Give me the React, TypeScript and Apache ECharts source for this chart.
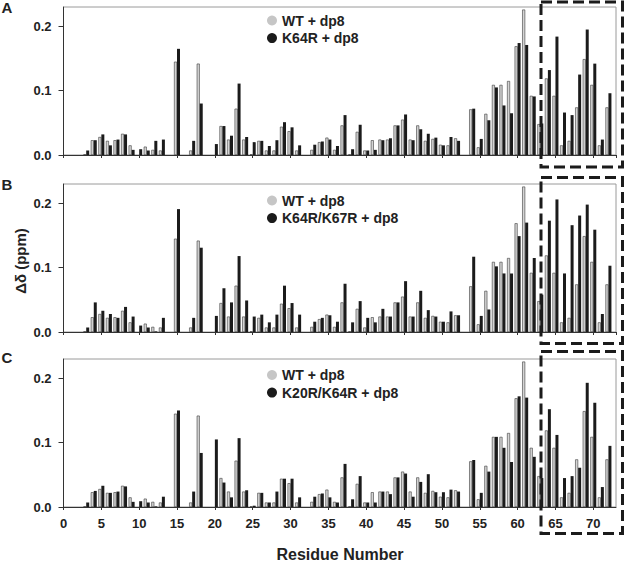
import React, { useEffect, useRef } from "react";
import * as echarts from "echarts";

// Residues 1..72
const residues: number[] = Array.from({ length: 72 }, (_, i) => i + 1);

const wtDp8: (number | null)[] = [
  null, null, 0.001, 0.023, 0.028, 0.022, 0.023, 0.033, 0.015, null,
  0.013, 0.008, 0.007, null, 0.145, null, 0.007, 0.142, null, null,
  0.045, 0.024, 0.072, 0.024, 0.001, 0.022, 0.007, 0.007, 0.044, 0.037,
  0.007, null, 0.008, 0.020, 0.027, 0.008, 0.046, 0.001, 0.036, 0.007,
  0.023, 0.024, 0.024, 0.046, 0.055, 0.024, 0.046, 0.022, 0.025, 0.016,
  0.015, 0.026, null, 0.071, 0.012, 0.064, 0.109, 0.109, 0.115, 0.169,
  0.226, 0.092, 0.048, 0.119, 0.092, 0.015, 0.022, 0.074, 0.149, 0.109,
  0.015, 0.074,
];

const k64rDp8: (number | null)[] = [
  null, null, 0.007, 0.023, 0.032, 0.015, 0.024, 0.032, 0.008, 0.009,
  0.007, 0.022, 0.024, null, 0.165, null, 0.022, 0.080, null, 0.017,
  0.045, 0.030, 0.111, 0.028, 0.020, 0.022, 0.014, 0.023, 0.051, 0.043,
  0.015, null, 0.016, 0.021, 0.024, 0.014, 0.062, 0.009, 0.047, 0.007,
  0.008, 0.023, 0.026, 0.046, 0.063, 0.023, 0.040, 0.033, 0.027, 0.015,
  0.028, 0.022, null, 0.072, 0.025, 0.054, 0.105, 0.077, 0.065, 0.174,
  0.171, 0.091, 0.049, 0.132, 0.184, 0.066, 0.062, 0.125, 0.195, 0.142,
  0.024, 0.096,
];

const k64rK67rDp8: (number | null)[] = [
  null, null, 0.007, 0.046, 0.033, 0.028, 0.022, 0.039, 0.024, 0.010,
  0.007, 0.001, 0.022, null, 0.191, null, 0.022, 0.131, null, 0.025,
  0.068, 0.046, 0.118, 0.049, 0.024, 0.027, 0.015, 0.027, 0.072, 0.045,
  0.027, null, 0.016, 0.022, 0.026, 0.016, 0.075, 0.015, 0.048, 0.022,
  0.015, 0.036, 0.024, 0.046, 0.079, 0.024, 0.064, 0.034, 0.024, 0.016,
  0.032, 0.026, null, 0.117, 0.025, 0.035, 0.102, 0.091, 0.091, 0.149,
  0.170, 0.115, 0.058, 0.173, 0.206, 0.091, 0.166, 0.181, 0.198, 0.159,
  0.028, 0.103,
];

const k20rK64rDp8: (number | null)[] = [
  null, null, 0.007, 0.025, 0.033, 0.022, 0.024, 0.032, 0.008, 0.009,
  0.007, 0.001, 0.016, null, 0.150, null, 0.024, 0.084, null, 0.105,
  0.038, 0.015, 0.107, 0.026, 0.002, 0.022, 0.007, 0.024, 0.044, 0.044,
  0.015, null, 0.016, 0.021, 0.015, 0.007, 0.067, 0.012, 0.048, 0.007,
  0.007, 0.024, 0.020, 0.046, 0.052, 0.016, 0.039, 0.051, 0.023, 0.023,
  0.027, 0.024, null, 0.073, 0.022, 0.055, 0.109, 0.092, 0.070, 0.172,
  0.170, 0.078, 0.045, 0.152, 0.112, 0.045, 0.048, 0.061, 0.193, 0.162,
  0.031, 0.095,
];

const panelLetters = ["A", "B", "C"];
const wtName = "WT + dp8";
const mutantNames = ["K64R + dp8", "K64R/K67R + dp8", "K20R/K64R + dp8"];
const mutantData = [k64rDp8, k64rK67rDp8, k20rK64rDp8];
const xTitle = "Residue Number";
const yTitle = "Δδ (ppm)";

const FONT = "'Liberation Sans', Arial, Helvetica, sans-serif";
const GRAY = "#d4d4d4";
const BLACK = "#1b1b1b";

const gridTops = [7, 184, 359];
const gridH = 148;
const legendTops = [13.5, 193.5, 368];
const boxes = [
  { y1: 2, y2: 167 },
  { y1: 177.5, y2: 343.5 },
  { y1: 351.5, y2: 533.5 },
];

function toPairs(vals: (number | null)[]) {
  const out: [number, number][] = [];
  vals.forEach((v, i) => {
    if (v !== null) out.push([residues[i], v]);
  });
  return out;
}

export default function App() {
  const ref = useRef<HTMLDivElement>(null);
  useEffect(() => {
    if (!ref.current) return;
    const chart = echarts.init(ref.current, undefined, { renderer: "svg" });

    const grids = gridTops.map((t) => ({
      left: 63.5,
      right: 9,
      top: t,
      height: gridH,
      show: true,
      borderColor: "#9a9a9a",
      borderWidth: 1,
      backgroundColor: "transparent",
    }));

    const xAxes = gridTops.map((_, i) => ({
      type: "value",
      gridIndex: i,
      min: 0,
      max: 73,
      interval: 5,
      splitLine: { show: false },
      axisLine: { show: true, lineStyle: { color: "#333", width: 1 } },
      axisTick: { show: true, length: 3, lineStyle: { color: "#333" } },
      axisLabel: {
        show: i === 2,
        margin: 10,
        fontFamily: FONT,
        fontWeight: "bold",
        fontSize: 13,
        color: "#222",
        showMaxLabel: false,
        formatter: (v: number) => (v % 5 === 0 ? String(v) : ""),
      },
    }));

    const yAxes = gridTops.map((_, i) => ({
      type: "value",
      gridIndex: i,
      min: 0,
      max: 0.23,
      interval: 0.1,
      splitLine: { show: false },
      axisLine: { show: true, lineStyle: { color: "#333", width: 1 } },
      axisTick: { show: true, length: 5, lineStyle: { color: "#333" } },
      axisLabel: {
        margin: 12,
        fontFamily: FONT,
        fontWeight: "bold",
        fontSize: 13,
        color: "#222",
        showMaxLabel: false,
        formatter: (v: number) =>
          Math.abs(v * 10 - Math.round(v * 10)) < 1e-6 ? v.toFixed(1) : "",
      },
    }));

    const series: any[] = [];
    gridTops.forEach((_, i) => {
      series.push({
        type: "bar",
        name: wtName,
        xAxisIndex: i,
        yAxisIndex: i,
        data: toPairs(wtDp8),
        barWidth: 3,
        barGap: "0%",
        itemStyle: { color: GRAY, borderColor: "#3a3a3a", borderWidth: 0.6 },
      });
      series.push({
        type: "bar",
        name: mutantNames[i],
        xAxisIndex: i,
        yAxisIndex: i,
        data: toPairs(mutantData[i]),
        barWidth: 3,
        barGap: "0%",
        itemStyle: { color: BLACK },
      });
    });

    const legends = gridTops.map((_, i) => ({
      orient: "vertical",
      left: 267,
      top: legendTops[i],
      padding: 0,
      itemGap: 3.6,
      itemWidth: 10,
      itemHeight: 10,
      icon: "circle",
      selectedMode: false,
      textStyle: {
        fontFamily: FONT,
        fontWeight: "bold",
        fontSize: 14,
        color: "#222",
      },
      data: [
        { name: wtName, itemStyle: { color: "#c6c6c6", borderWidth: 0 } },
        { name: mutantNames[i], itemStyle: { color: BLACK, borderWidth: 0 } },
      ],
    }));

    const graphics: any[] = [];
    const letterY = [7, 184, 357.5];
    panelLetters.forEach((l, i) => {
      graphics.push({
        type: "text",
        x: 7,
        y: letterY[i],
        style: {
          text: l,
          font: `bold 15px ${FONT}`,
          fill: "#222",
          textAlign: "center",
          textVerticalAlign: "middle",
        },
      });
    });
    graphics.push({
      type: "text",
      x: 20,
      y: 261,
      rotation: Math.PI / 2,
      style: {
        text: yTitle,
        font: `bold 15px ${FONT}`,
        fill: "#222",
        textAlign: "center",
        textVerticalAlign: "middle",
      },
    });
    graphics.push({
      type: "text",
      x: 340,
      y: 554,
      style: {
        text: xTitle,
        font: `bold 16px ${FONT}`,
        fill: "#222",
        textAlign: "center",
        textVerticalAlign: "middle",
      },
    });
    boxes.forEach((b) => {
      graphics.push({
        type: "rect",
        shape: { x: 541, y: b.y1, width: 81.5, height: b.y2 - b.y1 },
        style: {
          fill: "none",
          stroke: "#1b1b1b",
          lineWidth: 3,
          lineDash: [11, 5],
        },
        z: 100,
      });
    });

    chart.setOption({
      animation: false,
      backgroundColor: "#fff",
      grid: grids,
      xAxis: xAxes,
      yAxis: yAxes,
      legend: legends,
      series,
      graphic: graphics,
    });
    return () => chart.dispose();
  }, []);

  return (
    <div
      ref={ref}
      style={{ position: "fixed", left: 0, top: 0, width: 625, height: 561 }}
    />
  );
}
